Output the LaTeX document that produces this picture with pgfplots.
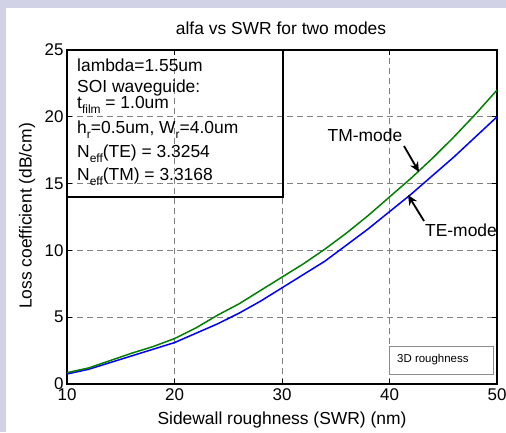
\documentclass[border=0pt]{standalone}
\usepackage{pgfplots}
\pgfplotsset{compat=1.18}
\usepackage{fontspec}
\setmainfont{Liberation Sans}
\usetikzlibrary{arrows.meta}
\definecolor{bgl}{RGB}{210,210,230}
\definecolor{mgreen}{RGB}{0,128,0}
\definecolor{mblue}{RGB}{0,0,255}
\newcommand\sub[1]{\raisebox{-0.55ex}{\fontsize{12}{12}\selectfont #1}}
\begin{document}
\begin{tikzpicture}[x=1bp,y=1bp]
\fill[bgl] (0,0) rectangle (506,432);
\fill[white] (6,0) rectangle (506,424);
\begin{axis}[
  at={(67bp,48bp)}, anchor=south west,
  scale only axis, width=430bp, height=334bp,
  xmin=10, xmax=50, ymin=0, ymax=25,
  xtick={10,20,30,40,50}, ytick={0,5,10,15,20,25},
  tick align=inside, major tick length=5bp,
  tick style={black, line width=1bp},
  grid=major,
  major grid style={black!50, line width=0.8bp, dash pattern=on 6bp off 4bp},
  axis line style={black, line width=1.4bp},
  /pgf/number format/assume math mode=true,
  ticklabel style={font=\fontsize{17}{17}\selectfont},
  xticklabel style={yshift=-1bp},
  clip=false,
]
\addplot[mblue, line width=1.5bp] coordinates {
(10,0.75) (12,1.1) (14,1.6) (16,2.1) (18,2.6) (20,3.1) (22,3.8) (24,4.5)
(26,5.3) (28,6.2) (30,7.2) (32,8.2) (34,9.2) (36,10.4) (38,11.6) (40,12.9)
(42,14.2) (44,15.6) (46,17.0) (48,18.5) (50,20.0)};
\addplot[mgreen, line width=1.5bp] coordinates {
(10,0.85) (12,1.2) (14,1.75) (16,2.3) (18,2.8) (20,3.4) (22,4.2) (24,5.15)
(26,6.0) (28,7.0) (30,8.0) (32,9.0) (34,10.1) (36,11.3) (38,12.6) (40,14.0)
(42,15.4) (44,16.9) (46,18.5) (48,20.2) (50,22.0)};
\draw[black, line width=1.3bp] (axis cs:10,14) rectangle (axis cs:30.1,25);
\end{axis}
\node[font=\fontsize{17.5}{17.5}\selectfont] at (281,404) {alfa vs SWR for two modes};
\node[font=\fontsize{17.5}{17.5}\selectfont] at (282,12) {Sidewall roughness (SWR) (nm)};
\node[font=\fontsize{17.5}{17.5}\selectfont, rotate=90] at (27,216) {Loss coefficient (dB/cm)};
\begin{scope}[every node/.style={font=\fontsize{17.5}{17.5}\selectfont, anchor=base west, inner sep=0pt}]
\node at (77,360.3) {lambda=1.55um};
\node at (77,339.3) {SOI waveguide:};
\node at (77,323.7) {t\sub{film} = 1.0um};
\node at (77,298.7) {h\sub{r}=0.5um, W\sub{r}=4.0um};
\node at (77,274.7) {N\sub{eff}(TE) = 3.3254};
\node at (77,251.3) {N\sub{eff}(TM) = 3.3168};
\end{scope}
\node[font=\fontsize{17.5}{17.5}\selectfont] at (365,297) {TM-mode};
\node[font=\fontsize{17.5}{17.5}\selectfont] at (461,202) {TE-mode};
\draw[-{Stealth[length=10bp,width=9bp]}, line width=1.8bp] (404,286) -- (419,260);
\draw[-{Stealth[length=10bp,width=9bp]}, line width=1.8bp] (424,211) -- (408,237);
\draw[black!45, line width=0.8bp, fill=white] (389,58) rectangle (493,86);
\node[font=\fontsize{11.5}{11.5}\selectfont, anchor=west, inner sep=0pt] at (397,72.5) {3D roughness};
\pgfresetboundingbox
\useasboundingbox (0,0) rectangle (506,432);
\end{tikzpicture}
\end{document}
